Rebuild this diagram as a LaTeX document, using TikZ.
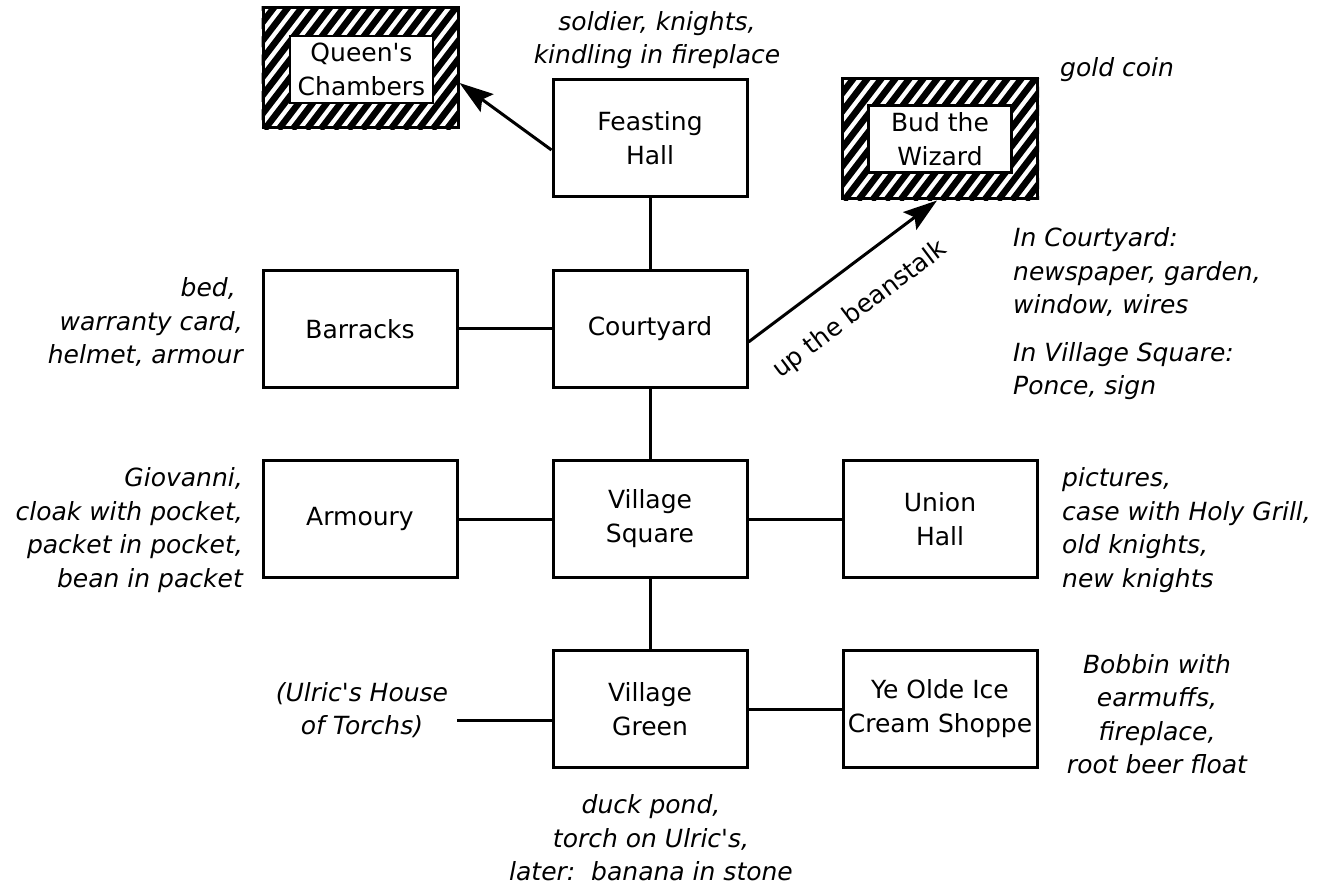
\documentclass[tikz,border=0pt]{standalone}
\usepackage{fontspec}
\setmainfont{DejaVu Sans}[Ligatures=TeXOff]
\usetikzlibrary{arrows.meta}
\newcommand\roomfont{\fontsize{25}{34}\selectfont}
\newcommand\notefont{\fontsize{25}{33.5}\selectfont\itshape}
\tikzset{
  room/.style={draw, line width=3pt, minimum width=194pt, minimum height=117pt, align=center, font=\roomfont, inner sep=0pt},
  outerbox/.style={draw, line width=3pt, minimum width=195pt, minimum height=120pt, inner sep=0pt},
  innerbox/.style={draw, line width=2.6pt, fill=white, minimum width=143pt, minimum height=67pt, align=center, font=\roomfont, inner sep=0pt},
  note/.style={font=\notefont, inner sep=0pt},
  link/.style={line width=3pt},
  arr/.style={line width=3pt, -{Stealth[length=34pt,width=22pt,inset=6pt]}},
  hatchline/.style={line width=6.5pt}
}
\begin{document}
\begin{tikzpicture}[x=1pt,y=-1pt]
\useasboundingbox (0,0) rectangle (1318,890);

% hatched boxes
\node[outerbox] (qo) at (360.5,68) {};
\begin{scope}
  \clip (qo.south west) rectangle (qo.north east);
  \foreach \i in {0,...,22} \draw[hatchline] ([xshift=\i*14pt-95pt]qo.south west) -- ++(95pt,124pt);
\end{scope}
\node[innerbox] (queen) at (361.5,69.5) {Queen's\\Chambers};

\node[outerbox] (bo) at (940,139) {};
\begin{scope}
  \clip (bo.south west) rectangle (bo.north east);
  \foreach \i in {0,...,22} \draw[hatchline] ([xshift=\i*14pt-95pt]bo.south west) -- ++(95pt,124pt);
\end{scope}
\node[innerbox] (bud) at (940,139) {Bud the\\Wizard};

% rooms
\node[room] (feast) at (650,138.5) {Feasting\\Hall};
\node[room] (court) at (650,329) {Courtyard};
\node[room] (barr) at (360,329) {Barracks};
\node[room] (vsq) at (650,519) {Village\\Square};
\node[room] (arm) at (360,519) {Armoury};
\node[room] (union) at (940,519) {Union\\Hall};
\node[room] (vgr) at (650,709) {Village\\Green};
\node[room] (shop) at (940,709) {Ye Olde Ice\\Cream Shoppe};

% connectors
\draw[link] (feast) -- (court);
\draw[link] (court) -- (vsq);
\draw[link] (vsq) -- (vgr);
\draw[link] (barr) -- (court);
\draw[link] (arm) -- (vsq);
\draw[link] (vsq) -- (union);
\draw[link] (vgr) -- (shop);
\coordinate (ulricend) at (457,720);
\draw[link] (ulricend) -- (vgr.west |- ulricend);

\draw[arr] (feast.west |- 0,150) -- (qo.east |- 0,83);
\draw[arr] (court.east |- 0,342) -- (bo.south -| 937,0);
\node[note, rotate=37, font=\fontsize{25}{30}\selectfont] (bean) at (860,310) {up the beanstalk};

% notes
\node[note, align=center] (n1) at (657,40) {soldier, knights,\\kindling in fireplace};
\node[note, anchor=west] (n2) at (1060,70) {gold coin};
\node[note, align=left, anchor=west] (n3) at (1013,272) {In Courtyard:\\newspaper, garden,\\window, wires};
\node[note, align=left, anchor=west] (n4) at (1013,371) {In Village Square:\\Ponce, sign};
\node[note, align=right, anchor=east] (n5) at (243,322) {bed,\hspace*{7pt}\\warranty card,\\helmet, armour};
\node[note, align=right, anchor=east] (n6) at (243,530) {Giovanni,\\cloak with pocket,\\packet in pocket,\\bean in packet};
\node[note, align=left, anchor=west] (n7) at (1062,530) {pictures,\\case with Holy Grill,\\old knights,\\new knights};
\node[note, align=center] (n8) at (362,710) {(Ulric's House\\of Torchs)};
\node[note, align=center] (n9) at (1157,714) {Bobbin with\\earmuffs,\\fireplace,\\root beer float};
\node[note, align=center] (n10) at (651,838) {duck pond,\\torch on Ulric's,\\later:\ \ banana in stone};
\end{tikzpicture}
\end{document}
